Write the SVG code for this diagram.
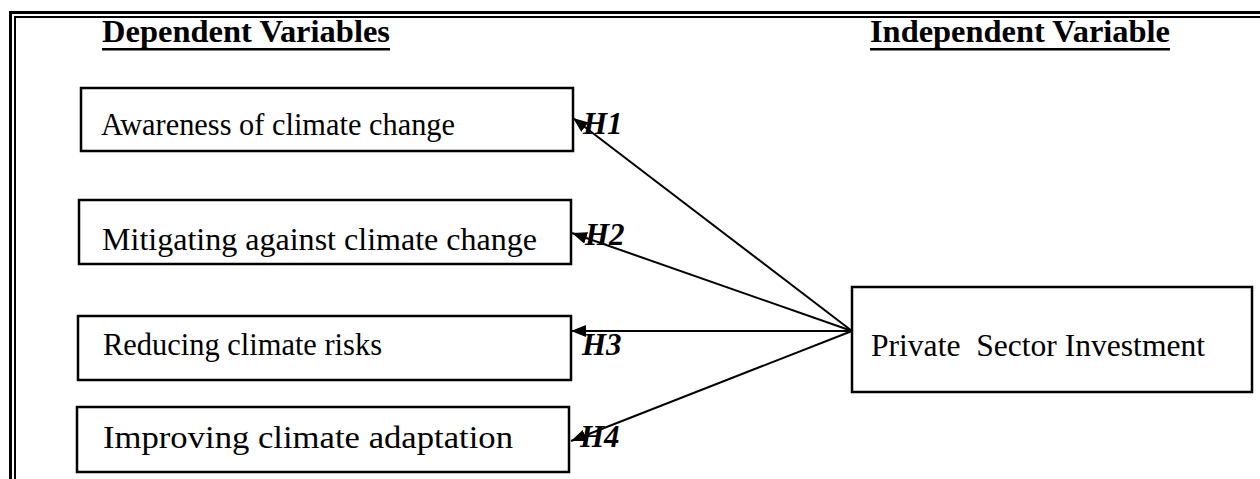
<svg xmlns="http://www.w3.org/2000/svg" width="1260" height="479" viewBox="0 0 1260 479">
  <style>
    .frame { stroke: #000; fill: none; }
    .box { fill: #fff; stroke: #000; stroke-width: 2.5; }
    .lbl { font-family: "Liberation Serif", "Times New Roman", serif; font-size: 31px; fill: #000; white-space: pre; }
    .head { font-family: "Liberation Serif", "Times New Roman", serif; font-size: 31px; font-weight: bold; fill: #000; }
    .hyp { font-family: "Liberation Serif", "Times New Roman", serif; font-size: 31px; font-weight: bold; font-style: italic; fill: #000; }
    .link { stroke: #000; stroke-width: 2; fill: none; marker-end: url(#tri); }
  </style>
  <defs>
    <marker id="tri" markerUnits="userSpaceOnUse" markerWidth="16" markerHeight="12" refX="15" refY="6" orient="auto">
      <path d="M0,0 L15,6 L0,12 Z" fill="#000"/>
    </marker>
  </defs>

  <rect width="1260" height="479" fill="#fff"/>

  <!-- double page frame -->
  <g id="frame" class="frame">
    <path d="M10.5,479 V12.5 H1260" stroke-width="3"/>
    <path d="M15,479 V17 H1260" stroke-width="2"/>
  </g>

  <!-- column headings -->
  <g id="heading-dependent">
    <text class="head" x="102" y="42" textLength="288" lengthAdjust="spacingAndGlyphs">Dependent Variables</text>
    <rect x="102" y="48" width="288" height="2.5" fill="#000"/>
  </g>
  <g id="heading-independent">
    <text class="head" x="870" y="42" textLength="300" lengthAdjust="spacingAndGlyphs">Independent Variable</text>
    <rect x="870" y="48" width="300" height="2.5" fill="#000"/>
  </g>

  <!-- connectors -->
  <g id="connectors">
    <line class="link" x1="852" y1="331" x2="573" y2="118"/>
    <line class="link" x1="852" y1="331" x2="572" y2="233"/>
    <line class="link" x1="852" y1="331" x2="571" y2="331"/>
    <line class="link" x1="852" y1="331" x2="571" y2="441"/>
  </g>

  <!-- dependent variable nodes -->
  <g id="node-awareness">
    <rect class="box" x="81" y="88" width="492" height="63"/>
    <text class="lbl" x="101" y="135" textLength="354" lengthAdjust="spacingAndGlyphs">Awareness of climate change</text>
  </g>
  <g id="node-mitigating">
    <rect class="box" x="79" y="200" width="492" height="64"/>
    <text class="lbl" x="102" y="250" textLength="435" lengthAdjust="spacingAndGlyphs">Mitigating against climate change</text>
  </g>
  <g id="node-reducing">
    <rect class="box" x="78" y="316" width="493" height="64"/>
    <text class="lbl" x="103" y="355" textLength="279" lengthAdjust="spacingAndGlyphs">Reducing climate risks</text>
  </g>
  <g id="node-improving">
    <rect class="box" x="77" y="407" width="492" height="65"/>
    <text class="lbl" x="103" y="448" textLength="410" lengthAdjust="spacingAndGlyphs">Improving climate adaptation</text>
  </g>

  <!-- independent variable node -->
  <g id="node-private">
    <rect class="box" x="852" y="287" width="400" height="105"/>
    <text class="lbl" x="871" y="356" textLength="334" lengthAdjust="spacingAndGlyphs">Private  Sector Investment</text>
  </g>

  <!-- hypothesis labels -->
  <g id="hypotheses">
    <text class="hyp" x="583" y="134">H1</text>
    <text class="hyp" x="585" y="245">H2</text>
    <text class="hyp" x="582" y="355">H3</text>
    <text class="hyp" x="580" y="447">H4</text>
  </g>
</svg>
